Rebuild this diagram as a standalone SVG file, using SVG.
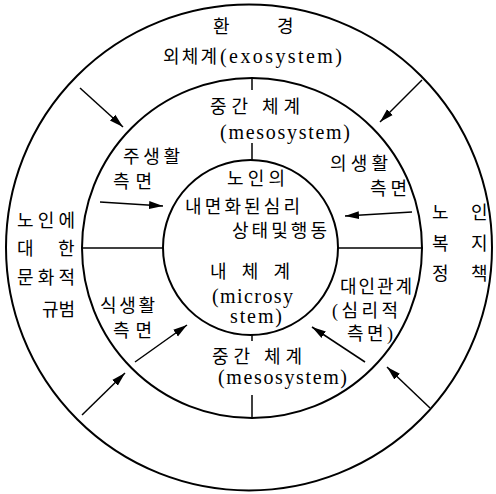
<svg xmlns="http://www.w3.org/2000/svg" width="496" height="494" viewBox="0 0 496 494">
<style>
.c{fill:none;stroke:#000;stroke-width:2}
.l{fill:none;stroke:#000;stroke-width:1.5}
.a{fill:none;stroke:#000;stroke-width:1.5;marker-end:url(#ah)}
text{font-family:"Liberation Serif","Noto Sans CJK KR",serif;font-size:18px;fill:#000}
.e{font-size:20px}
</style>
<defs>
<marker id="ah" markerUnits="userSpaceOnUse" markerWidth="16" markerHeight="10" refX="14" refY="5" orient="auto">
<path d="M0,1 L14,5 L0,9 Z" fill="#000"/>
</marker>
</defs>
<rect width="496" height="494" fill="#fff"/>
<g id="outer">
<circle class="c" cx="249" cy="247.5" r="243"/>
<text x="213" y="33">환</text>
<text x="277" y="33">경</text>
<text x="163" y="63" textLength="54">외체계</text>
<text class="e" x="220" y="63" textLength="122">(exosystem)</text>
<text x="17" y="227" textLength="58">노인에</text>
<text x="17" y="255">대</text><text x="58" y="255">한</text>
<text x="17" y="284" textLength="58">문화적</text>
<text x="42" y="316" textLength="33">규범</text>
<text x="432" y="219">노</text><text x="471" y="219">인</text>
<text x="432" y="250">복</text><text x="471" y="250">지</text>
<text x="432" y="280">정</text><text x="471" y="280">책</text>
</g>
<g id="middle">
<circle class="c" cx="252" cy="248" r="170"/>
<text x="210" y="113" textLength="90">중간 체계</text>
<text class="e" x="220" y="139" textLength="130">(mesosystem)</text>
<text x="123" y="163" textLength="57">주생활</text>
<text x="113" y="188" textLength="39">측면</text>
<text x="330" y="170" textLength="58">의생활</text>
<text x="370" y="195" textLength="37">측면</text>
<text x="100" y="312" textLength="55">식생활</text>
<text x="113" y="337" textLength="39">측면</text>
<text x="340" y="293" textLength="72">대인관계</text>
<text x="332" y="317" textLength="66">(심리적</text>
<text x="347" y="340" textLength="46">측면)</text>
<text x="212" y="363" textLength="90">중간 체계</text>
<text class="e" x="218" y="384" textLength="129">(mesosystem)</text>
</g>
<g id="inner">
<circle class="c" cx="250.5" cy="247.5" r="87.5"/>
<text x="227" y="185" textLength="58">노인의</text>
<text x="185" y="213" textLength="115">내면화된심리</text>
<text x="232" y="237" textLength="95">상태및행동</text>
<text x="210" y="278" textLength="80">내 체 계</text>
<text class="e" x="212" y="303" textLength="81">(microsy</text>
<text class="e" x="230" y="323" textLength="52">stem)</text>
</g>
<g id="connectors">
<line class="l" x1="82" y1="248" x2="163" y2="248"/>
<line class="l" x1="338" y1="248" x2="423" y2="248"/>
<line class="l" x1="252" y1="78" x2="252" y2="90"/>
<line class="l" x1="252" y1="143" x2="252" y2="160"/>
<line class="l" x1="252" y1="335" x2="252" y2="341"/>
<line class="l" x1="252" y1="395" x2="252" y2="418"/>
<line class="a" x1="80" y1="88" x2="123" y2="127"/>
<line class="a" x1="422" y1="80" x2="380" y2="122"/>
<line class="a" x1="100" y1="202" x2="163" y2="206"/>
<line class="a" x1="412" y1="212" x2="345" y2="216"/>
<line class="a" x1="135" y1="362" x2="187" y2="325"/>
<line class="a" x1="82" y1="415" x2="125" y2="373"/>
<line class="a" x1="365" y1="362" x2="312" y2="327"/>
<line class="a" x1="430" y1="408" x2="387" y2="367"/>
</g>
</svg>
